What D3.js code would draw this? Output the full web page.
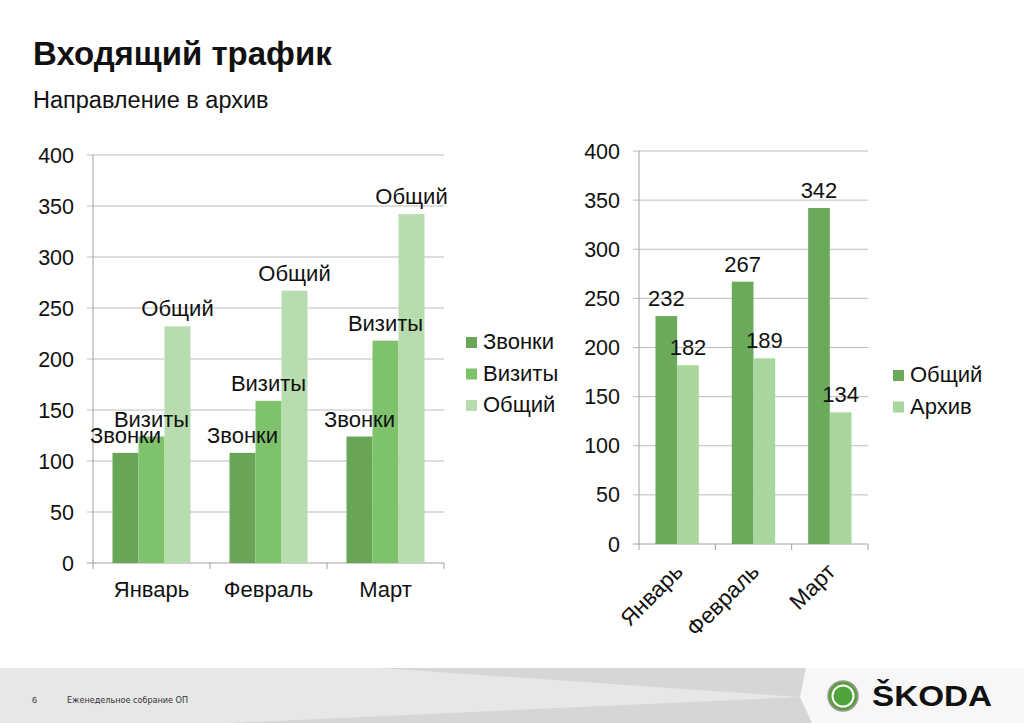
<!DOCTYPE html>
<html><head><meta charset="utf-8">
<script src="https://cdn.jsdelivr.net/npm/d3@7"></script>
<style>body{margin:0;background:#fff;}svg{display:block;font-family:"Liberation Sans",Arial,sans-serif;}</style>
</head><body>
<svg id="c" width="1024" height="723"></svg>
<script>
const months = ["Январь","Февраль","Март"];
const leftSeries = ["Звонки","Визиты","Общий"];
const calls = [108,108,124];
const visits = [124,159,218];
const totalLeft = [232,267,342];
const rightSeries = ["Общий","Архив"];
const totalRight = [232,267,342];
const archive = [182,189,134];
const yTicks = [0,50,100,150,200,250,300,350,400];

const leftColors = ["#69a556","#7ec26c","#b7dcad"];
const rightColors = ["#6caa5b","#a9d69c"];

const svg = d3.select("#c");
const gridC = "#bdbdbd", axisC = "#a0a0a0";

// Title
svg.append("text").attr("x",33).attr("y",65).attr("font-size",33).attr("font-weight","bold").attr("fill","#111").text("Входящий трафик");
svg.append("text").attr("x",33).attr("y",108).attr("font-size",23.5).attr("fill","#111").text("Направление в архив");

function chart(cfg){
  const g = svg.append("g");
  const x0 = d3.scaleBand().domain(months).range([cfg.x0,cfg.x1]).padding(0);
  const x1 = d3.scaleBand().domain(cfg.series).range([0,x0.bandwidth()]).paddingInner(0).paddingOuter(cfg.po);
  const y = d3.scaleLinear().domain([0,400]).range([cfg.y0,cfg.y1]);
  // grid
  g.selectAll(".grid").data(yTicks).enter().append("line")
    .attr("x1",cfg.x0-6).attr("x2",cfg.x1).attr("y1",d=>y(d)).attr("y2",d=>y(d))
    .attr("stroke",d=>d===0?axisC:gridC).attr("stroke-width",1);
  // y axis
  g.append("line").attr("x1",cfg.x0).attr("x2",cfg.x0).attr("y1",y(0)).attr("y2",y(400)).attr("stroke",axisC);
  g.selectAll(".yl").data(yTicks).enter().append("text")
    .attr("x",cfg.x0-cfg.labGap).attr("y",d=>y(d)+7.5).attr("text-anchor","end").attr("font-size",21.5).attr("fill","#111").text(d=>d);
  // x ticks at boundaries
  const bounds = months.map(m=>x0(m)).concat([cfg.x1]);
  g.selectAll(".xt").data(bounds).enter().append("line")
    .attr("x1",d=>d).attr("x2",d=>d).attr("y1",y(0)).attr("y2",y(0)+6).attr("stroke",axisC);
  // bars
  months.forEach((m,i)=>{
    cfg.series.forEach((s,j)=>{
      const v = cfg.values[j][i];
      g.append("rect").attr("x",x0(m)+x1(s)).attr("y",y(v)).attr("width",x1.bandwidth()).attr("height",y(0)-y(v)).attr("fill",cfg.colors[j]);
    });
  });
  // bar labels (after all bars)
  months.forEach((m,i)=>{
    cfg.series.forEach((s,j)=>{
      const v = cfg.values[j][i];
      g.append("text").attr("x",x0(m)+x1(s)+x1.bandwidth()/2).attr("y",y(v)-10).attr("text-anchor","middle")
        .attr("font-size",22).attr("fill","#111").text(cfg.labelFn(s,v));
    });
  });
  // x labels
  months.forEach(m=>{
    const cx = x0(m)+x0.bandwidth()/2;
    if(cfg.rotate){
      g.append("text").attr("transform",`translate(${cx+7},${y(0)+29}) rotate(-45)`).attr("text-anchor","end")
        .attr("font-size",22.5).attr("fill","#111").text(m);
    } else {
      g.append("text").attr("x",cx).attr("y",y(0)+34).attr("text-anchor","middle").attr("font-size",22).attr("fill","#111").text(m);
    }
  });
  // legend
  cfg.series.forEach((s,j)=>{
    const ly = cfg.legY + j*31.5;
    g.append("rect").attr("x",cfg.legX).attr("y",ly-12).attr("width",11).attr("height",11).attr("fill",cfg.colors[j]);
    g.append("text").attr("x",cfg.legX+17).attr("y",ly).attr("font-size",22).attr("fill","#111").text(s);
  });
}

chart({x0:93,x1:444,y0:563,y1:155,po:0.75,series:leftSeries,values:[calls,visits,totalLeft],colors:leftColors,
  labelFn:(s,v)=>s,rotate:false,labGap:19,legX:466,legY:349});
chart({x0:639,x1:868,y0:544,y1:151,po:0.76,series:rightSeries,values:[totalRight,archive],colors:rightColors,
  labelFn:(s,v)=>v,rotate:true,labGap:19,legX:893,legY:382});

// footer
const f = svg.append("g");
f.append("rect").attr("x",0).attr("y",668).attr("width",1024).attr("height",55).attr("fill","#d6d6d6");
f.append("polygon").attr("points","0,668 380,668 800,697 230,723 0,723").attr("fill","#e7e7e7");
f.append("polygon").attr("points","806,668 1024,668 1024,723 812,723 800,697").attr("fill","#f7f7f7");
f.append("text").attr("x",32).attr("y",703).attr("font-size",9).attr("fill","#333").text("6");
f.append("text").attr("x",67).attr("y",703).attr("font-size",9).attr("font-family","'Liberation Sans Narrow','DejaVu Sans Condensed',sans-serif").attr("fill","#333").text("Еженедельное собрание ОП");
f.append("circle").attr("cx",843).attr("cy",696).attr("r",15).attr("fill","#5b9e3c").attr("stroke","#9a9a9a").attr("stroke-width",1.5);
f.append("circle").attr("cx",843).attr("cy",696).attr("r",11.5).attr("fill","#fff");
f.append("circle").attr("cx",843).attr("cy",696).attr("r",9.5).attr("fill","#4fa33a");
f.append("text").attr("x",872).attr("y",706).attr("font-size",29).attr("font-weight","bold").attr("fill","#111")
  .attr("textLength",120).attr("lengthAdjust","spacingAndGlyphs").text("ŠKODA");
</script>
</body></html>
